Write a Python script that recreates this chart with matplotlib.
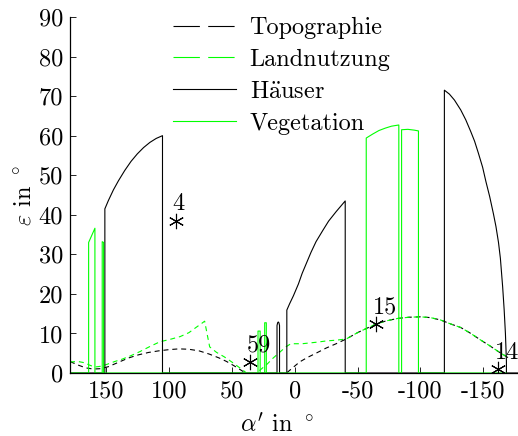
import matplotlib
matplotlib.use("Agg")
import matplotlib.pyplot as plt
from matplotlib.lines import Line2D

plt.rcParams['font.family'] = ['cmr10', 'DejaVu Serif']
plt.rcParams['mathtext.fontset'] = 'cm'
plt.rcParams['axes.formatter.use_mathtext'] = True
plt.rcParams['axes.unicode_minus'] = False
plt.rcParams['lines.scale_dashes'] = False
plt.rcParams['font.size'] = 17.5

GREEN = '#00ff00'

# Topographie (dashed black), two pieces
topo1_a = [178.5, 172, 166, 160, 154, 148, 140, 132, 124, 116, 108, 100, 92, 84, 76, 68, 60, 54, 48, 43, 40]
topo1_e = [2.9, 2.0, 1.3, 1.0, 1.1, 1.6, 2.7, 3.8, 4.6, 5.2, 5.6, 5.9, 6.1, 6.0, 5.6, 4.8, 3.8, 2.9, 1.8, 0.8, 0.2]
topo2_a = [6, 2, -4, -10, -17, -25, -33, -41, -50, -58, -65, -73, -82, -91, -100, -108, -116, -124, -132, -140, -148, -155, -161, -166, -170]
topo2_e = [0.1, 1.2, 2.8, 3.9, 5.0, 6.3, 7.4, 8.6, 10.2, 11.4, 12.4, 13.2, 13.8, 14.1, 14.2, 14.0, 13.4, 12.4, 11.5, 10.0, 8.3, 6.9, 5.6, 4.6, 3.8]

# Landnutzung (dashed green), two pieces
lu1_a = [178.5, 172, 167, 163, 159, 154, 149, 143, 137, 130, 123, 115, 107, 99, 91, 84, 78, 74, 71.5, 69.5, 67.5, 62, 56, 50, 44, 39]
lu1_e = [2.8, 2.9, 2.6, 2.0, 1.5, 1.7, 2.2, 2.9, 3.5, 4.4, 5.4, 6.7, 7.9, 8.5, 9.2, 10.2, 11.6, 12.5, 13.1, 9.8, 6.6, 5.2, 4.1, 2.8, 1.4, 0.2]
lu2_a = [28, 22, 17, 12, 7, 3, 0, -6, -12, -18, -25, -33, -41, -50, -58, -65, -73, -82, -91, -100, -108, -116, -124, -132, -140, -148, -155, -161, -166, -170]
lu2_e = [0.6, 2.2, 3.8, 5.2, 6.6, 7.4, 7.4, 7.4, 7.6, 7.8, 8.1, 8.3, 8.6, 10.2, 11.4, 12.4, 13.2, 13.8, 14.1, 14.2, 14.0, 13.4, 12.4, 11.5, 10.0, 8.3, 6.9, 5.6, 4.6, 3.8]

# Häuser (solid black)
haus_a = [178.5, 150.8, 150.8, 148, 144, 140, 135, 130, 125, 120, 115, 110, 105, 105,
          14, 14, 13.5, 13, 12.5, 12, 12,
          6.2, 6.2, 4, 1, -3, -6, -9.3, -13, -17, -22.5, -27, -33, -37, -40.2, -40.2,
          -119, -119, -123, -127, -132, -136, -140, -143, -146, -149.4, -152, -155, -158, -160, -162, -163.5, -165.3, -166.5, -167.5, -168.3, -168.3, -177.5]
haus_e = [0, 0, 41.5, 43.6, 46.3, 48.6, 51.2, 53.5, 55.4, 57.0, 58.3, 59.3, 60, 0,
          0, 12.0, 12.7, 12.9, 12.7, 12.0, 0,
          0, 15.9, 17.5, 19.5, 22.5, 25.2, 27.7, 30.5, 33.2, 36.1, 38.4, 40.8, 42.3, 43.5, 0,
          0, 71.5, 70.5, 69.0, 66.5, 64.0, 61.0, 58.6, 55.6, 52.0, 48.4, 44.6, 40.2, 37.0, 33.0, 29.0, 21.8, 16.0, 10.0, 3.0, 0, 0]

# Vegetation (solid green)
veg_a = [178.5, 163.7, 163.7, 158.7, 158.7, 152.9, 152.9, 151.8, 151.8,
         29.1, 29.1, 27.4, 27.4, 23.8, 23.8, 22.5, 22.5,
         -56.9, -56.9, -62, -67, -72, -77, -82.8, -82.8,
         -85, -85, -90, -95, -98.4, -98.4, -168]
veg_e = [0, 0, 33, 36.6, 0, 0, 33.2, 33.0, 0,
         0, 10.6, 10.6, 0, 0, 12.7, 12.7, 0,
         0, 59.4, 60.4, 61.3, 61.9, 62.4, 62.7, 0,
         0, 61.5, 61.6, 61.4, 61.2, 0, 0]

# marked points
mark_a = [94.4, 35.7, -65, -161.6]
mark_e = [38.5, 2.7, 12.4, 1.0]
mark_lbl = ['4', '59', '15', '14']

xticks = [150, 100, 50, 0, -50, -100, -150]
yticks = [0, 10, 20, 30, 40, 50, 60, 70, 80, 90]

fig = plt.figure(figsize=(5.18, 4.36), dpi=100)
ax = fig.add_axes([70/518, 63/436, 448/518, 356/436])

dash = (3.6, 2.8)
ax.plot(topo1_a, topo1_e, color='black', lw=0.8, dashes=dash)
ax.plot(topo2_a, topo2_e, color='black', lw=0.8, dashes=dash)
ax.plot(lu1_a, lu1_e, color=GREEN, lw=0.8, dashes=dash)
ax.plot(lu2_a, lu2_e, color=GREEN, lw=0.8, dashes=dash)
ax.plot(haus_a, haus_e, color='black', lw=0.8)
ax.plot(veg_a, veg_e, color=GREEN, lw=0.8)

ax.plot(mark_a, mark_e, ls='none', marker=(6, 2, 0), ms=11, mec='black', mew=0.8)
for a, e, t in zip(mark_a, mark_e, mark_lbl):
    ax.text(a + 2.5, e + 1.4, t, ha='left', va='bottom')

ax.set_xlim(178.5, -177.5)
ax.set_ylim(0, 90)
ax.set_xticks(xticks, labels=[str(t) for t in xticks])
ax.set_yticks(yticks, labels=[str(t) for t in yticks])
ax.tick_params(direction='in', length=4, width=0.6, pad=5, top=False, right=False)
for s in ['top', 'right']:
    ax.spines[s].set_visible(False)
for s in ['left', 'bottom']:
    ax.spines[s].set_linewidth(0.9)

ax.set_xlabel(r"$\alpha'$ in $^\circ$")
ax.xaxis.set_label_coords(0.462, -0.112)
ax.set_ylabel(r"$\varepsilon$ in $^\circ$")
ax.yaxis.set_label_coords(-0.075, 0.5)

handles = [
    Line2D([], [], color='black', lw=0.8, dashes=(19, 6)),
    Line2D([], [], color=GREEN, lw=0.8, dashes=(19, 6)),
    Line2D([], [], color='black', lw=0.8),
    Line2D([], [], color=GREEN, lw=0.8),
]
labels = ['Topographie', 'Landnutzung', r'H$\mathrm{\ddot{a}}$user', 'Vegetation']
ax.legend(handles, labels, loc='upper left', bbox_to_anchor=(0.23, 1.0), frameon=False,
          borderaxespad=0, borderpad=0, handlelength=2.6, handletextpad=0.55, labelspacing=0.4)

fig.savefig('out.png', dpi=100)
